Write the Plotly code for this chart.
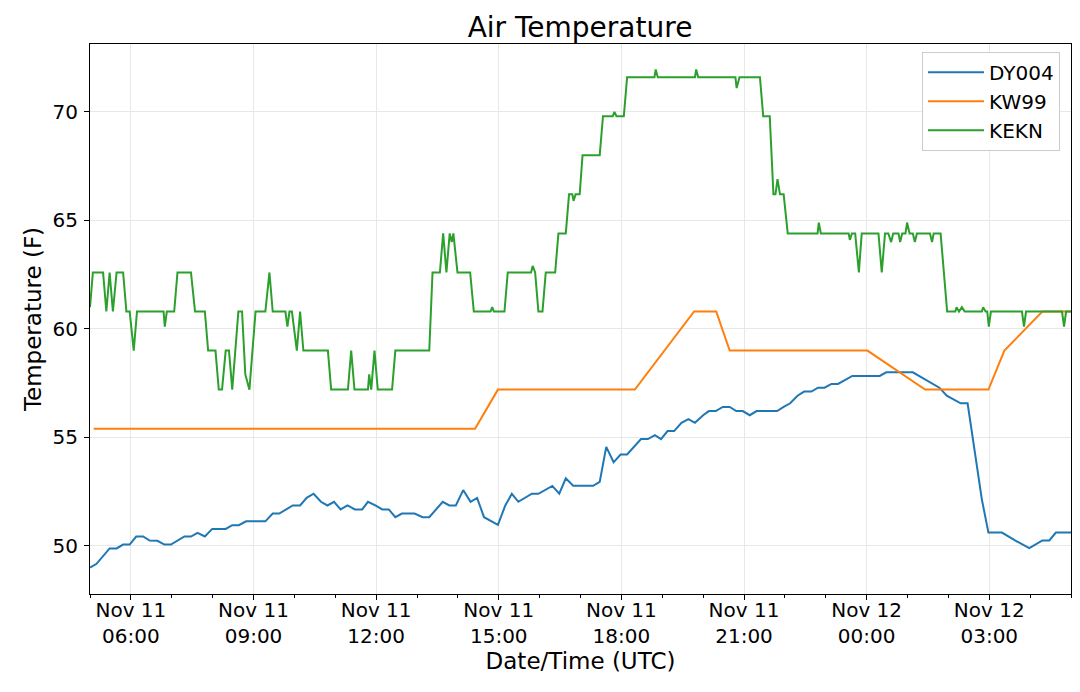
import pandas as pd
import plotly.graph_objects as go

START = "2019-11-11 05:00"
END = "2019-11-12 05:00"

# elapsed hours since START, values in deg F
dy004_hours = [0.00, 0.16, 0.48, 0.65, 0.81, 0.97, 1.13, 1.30, 1.46, 1.65, 1.82, 1.98, 2.31, 2.47, 2.63, 2.81,
               2.99, 3.32, 3.48, 3.64, 3.82, 4.29, 4.47, 4.63, 4.96, 5.14, 5.30, 5.47, 5.65, 5.81, 5.97, 6.13,
               6.30, 6.48, 6.66, 6.80, 6.98, 7.15, 7.31, 7.47, 7.63, 7.94, 8.14, 8.30, 8.63, 8.79, 8.95, 9.13,
               9.31, 9.47, 9.64, 9.98, 10.16, 10.32, 10.48, 10.81, 10.97, 11.31, 11.48, 11.64, 11.82, 12.31,
               12.47, 12.63, 12.81, 12.98, 13.14, 13.30, 13.48, 13.65, 13.82, 13.97, 14.13, 14.29, 14.47, 14.64,
               14.80, 15.00, 15.14, 15.31, 15.48, 15.65, 15.81, 15.97, 16.14, 16.31, 16.81, 16.97, 17.13, 17.31,
               17.47, 17.65, 17.81, 17.97, 18.14, 18.30, 18.46, 18.65, 19.32, 19.48, 20.13, 20.46, 20.78, 20.96,
               21.12, 21.30, 21.47, 21.64, 21.82, 21.98, 22.31, 22.63, 22.98, 23.30, 23.47, 23.63, 24.00]
dy004_temp = [49.00, 49.17, 49.88, 49.88, 50.06, 50.06, 50.43, 50.43, 50.24, 50.23, 50.06, 50.06, 50.43, 50.43, 50.60, 50.43,
              50.78, 50.78, 50.95, 50.95, 51.13, 51.13, 51.49, 51.49, 51.86, 51.86, 52.21, 52.40, 52.03, 51.86, 52.03, 51.68,
              51.86, 51.68, 51.68, 52.03, 51.86, 51.68, 51.68, 51.32, 51.49, 51.49, 51.32, 51.32, 52.03, 51.86, 51.86, 52.57,
              52.03, 52.21, 51.32, 50.97, 51.86, 52.40, 52.03, 52.40, 52.40, 52.76, 52.40, 53.11, 52.77, 52.77,
              52.95, 54.56, 53.85, 54.21, 54.21, 54.56, 54.92, 54.92, 55.10, 54.92, 55.29, 55.29, 55.67, 55.84,
              55.67, 56.02, 56.21, 56.21, 56.40, 56.40, 56.21, 56.21, 56.02, 56.21, 56.21, 56.40, 56.57, 56.92,
              57.11, 57.11, 57.29, 57.29, 57.46, 57.46, 57.64, 57.83, 57.83, 58.00, 58.00, 57.64, 57.29, 56.92,
              56.75, 56.57, 56.57, 54.45, 52.13, 50.61, 50.61, 50.25, 49.89, 50.25, 50.25, 50.61, 50.61]

kw99_hours = [0.09, 9.42, 9.98, 13.33, 14.78, 15.32, 15.65, 19.02, 20.43, 21.98, 22.37, 23.30, 24.00]
kw99_temp = [55.4, 55.4, 57.2, 57.2, 60.8, 60.8, 59.0, 59.0, 57.2, 57.2, 59.0, 60.8, 60.8]

kekn_hours = [0.00, 0.07, 0.32, 0.40, 0.48, 0.56, 0.65, 0.81, 0.89, 0.97, 1.07, 1.15, 1.80, 1.83, 1.88, 2.06,
              2.14, 2.47, 2.57, 2.81, 2.89, 3.07, 3.15, 3.23, 3.32, 3.40, 3.48, 3.63, 3.72, 3.80, 3.90, 4.05,
              4.29, 4.39, 4.47, 4.78, 4.83, 4.88, 4.94, 5.06, 5.14, 5.22, 5.82, 5.90, 6.31, 6.39, 6.47, 6.80,
              6.83, 6.88, 6.96, 7.04, 7.39, 7.47, 8.30, 8.38, 8.56, 8.64, 8.72, 8.80, 8.85, 8.89, 8.99, 9.30,
              9.39, 9.80, 9.84, 9.88, 10.14, 10.22, 10.79, 10.83, 10.89, 10.97, 11.07, 11.15, 11.38, 11.46,
              11.64, 11.72, 11.80, 11.83, 11.88, 11.98, 12.05, 12.47, 12.55, 12.79, 12.83, 12.88, 13.06, 13.14,
              13.81, 13.84, 13.89, 14.80, 14.83, 14.88, 15.79, 15.82, 15.89, 16.39, 16.47, 16.63, 16.72, 16.77,
              16.82, 16.88, 16.97, 17.07, 17.80, 17.83, 17.88, 18.56, 18.59, 18.64, 18.72, 18.81, 18.88, 19.29,
              19.37, 19.45, 19.53, 19.60, 19.65, 19.78, 19.82, 19.87, 19.95, 19.99, 20.05, 20.13, 20.18, 20.23,
              20.55, 20.60, 20.64, 20.81, 20.97, 21.17, 21.20, 21.26, 21.33, 21.40, 21.82, 21.85, 21.91, 21.95,
              21.99, 22.04, 22.80, 22.85, 22.90, 23.78, 23.83, 23.88, 24.00]
kekn_temp = [61.0, 62.6, 62.6, 60.8, 62.6, 60.8, 62.6, 62.6, 60.8, 60.8, 59.0, 60.8, 60.8, 60.1, 60.8, 60.8,
             62.6, 62.6, 60.8, 60.8, 59.0, 59.0, 57.2, 57.2, 59.0, 59.0, 57.2, 60.8, 60.8, 57.9, 57.2, 60.8,
             60.8, 62.6, 60.8, 60.8, 60.1, 60.8, 60.8, 59.0, 60.8, 59.0, 59.0, 57.2, 57.2, 59.0, 57.2, 57.2,
             57.9, 57.2, 59.0, 57.2, 57.2, 59.0, 59.0, 62.6, 62.6, 64.4, 62.6, 64.4, 64.0, 64.4, 62.6, 62.6,
             60.8, 60.8, 61.0, 60.8, 60.8, 62.6, 62.6, 62.9, 62.6, 60.8, 60.8, 62.6, 62.6, 64.4,
             64.4, 66.2, 66.2, 65.9, 66.2, 66.2, 68.0, 68.0, 69.8, 69.8, 70.0, 69.8, 69.8, 71.6,
             71.6, 71.96, 71.6, 71.6, 71.96, 71.6, 71.6, 71.1, 71.6, 71.6, 69.8, 69.8, 66.2, 66.2,
             66.9, 66.2, 66.2, 64.4, 64.4, 64.9, 64.4, 64.4, 64.1, 64.4, 64.4, 62.6, 64.4, 64.4,
             62.6, 64.4, 64.4, 64.0, 64.4, 64.4, 64.0, 64.4, 64.4, 64.9, 64.4, 64.4, 64.0, 64.4,
             64.4, 64.0, 64.4, 64.4, 60.8, 60.8, 61.0, 60.8, 61.0, 60.8, 60.8, 61.0, 60.8, 60.8,
             60.1, 60.8, 60.8, 60.1, 60.8, 60.8, 60.1, 60.8, 60.8]

tick_times = ["2019-11-11 06:00", "2019-11-11 09:00", "2019-11-11 12:00", "2019-11-11 15:00",
              "2019-11-11 18:00", "2019-11-11 21:00", "2019-11-12 00:00", "2019-11-12 03:00"]
tick_labels = ["Nov 11<br>06:00", "Nov 11<br>09:00", "Nov 11<br>12:00", "Nov 11<br>15:00",
               "Nov 11<br>18:00", "Nov 11<br>21:00", "Nov 12<br>00:00", "Nov 12<br>03:00"]
y_ticks = [50, 55, 60, 65, 70]

start = pd.Timestamp(START)


def to_time(hours):
    return start + pd.to_timedelta(hours, unit="h")


series = [
    ("DY004", dy004_hours, dy004_temp, "#1f77b4"),
    ("KW99", kw99_hours, kw99_temp, "#ff7f0e"),
    ("KEKN", kekn_hours, kekn_temp, "#2ca02c"),
]

fig = go.Figure()
for name, hrs, vals, color in series:
    fig.add_trace(go.Scatter(x=to_time(hrs), y=vals, mode="lines", name=name,
                             line=dict(color=color, width=2)))

FONT = "DejaVu Sans"
# page body has an 8px margin: figure is sized/offset so the page matches 1080x692
W, H = 1064, 676
fig.update_layout(
    width=W, height=H,
    margin=dict(l=81.6, r=1, t=36, b=90, autoexpand=False),
    paper_bgcolor="white", plot_bgcolor="white",
    font=dict(family=FONT, color="black", size=20),
    title=dict(text="Air Temperature", x=572 / W, xanchor="center", y=1 - 19 / H,
               yanchor="middle", yref="container", font=dict(size=28, family=FONT)),
    showlegend=True,
    legend=dict(x=0.9888, xanchor="right", y=0.986, yanchor="top",
                bgcolor="white", bordercolor="#cccccc", borderwidth=1,
                itemwidth=56,
                font=dict(size=20, family=FONT)),
)
fig.update_xaxes(
    range=[START, END], type="date",
    tickvals=tick_times, ticktext=tick_labels,
    showline=True, mirror=True, linecolor="black", linewidth=1,
    ticks="outside", ticklen=5, tickcolor="black",
    showgrid=True, gridcolor="#e8e8e8", gridwidth=1, zeroline=False,
    minor=dict(dtick=3600000, tick0="2019-11-11 00:00", ticks="outside", ticklen=3,
               tickcolor="black", showgrid=False),
    tickfont=dict(size=20, family=FONT),
    ticklabelstandoff=-7,
    title=dict(text="Date/Time (UTC)", font=dict(size=23, family=FONT), standoff=4),
)
fig.update_yaxes(
    range=[47.78, 73.13],
    tickvals=y_ticks,
    showline=True, mirror=True, linecolor="black", linewidth=1,
    ticks="outside", ticklen=5, tickcolor="black",
    showgrid=True, gridcolor="#e8e8e8", gridwidth=1, zeroline=False,
    tickfont=dict(size=20, family=FONT),
    ticklabelstandoff=2,
    title=dict(text="Temperature (F)", font=dict(size=23, family=FONT), standoff=4),
)

fig.write_html("out.html")
